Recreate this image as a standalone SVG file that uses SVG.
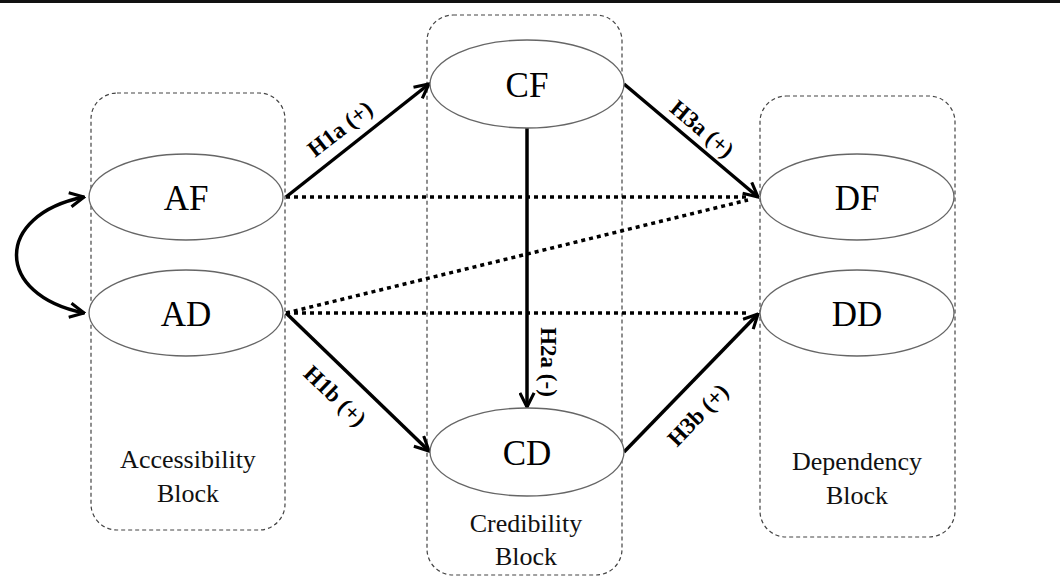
<svg xmlns="http://www.w3.org/2000/svg" width="1060" height="580" viewBox="0 0 1060 580">
<style>
.blk{fill:none;stroke:#444;stroke-width:1.2;stroke-dasharray:4 3}
.ell{fill:#fff;stroke:#666;stroke-width:1.3}
text{font-family:'Liberation Serif','Times New Roman','DejaVu Serif',serif}
.nt{font-size:35px;fill:#000;text-anchor:middle;dominant-baseline:central}
.bt{font-size:26px;fill:#111;text-anchor:middle}
.lbl{font-size:23px;font-weight:bold;fill:#000;text-anchor:middle;dominant-baseline:central}
.ar{fill:none;stroke:#000;stroke-width:3.5;marker-end:url(#ah)}
.dt{fill:none;stroke:#000;stroke-width:3.5;stroke-dasharray:4 4}
</style>
<defs>
<marker id="ah" viewBox="0 0 12 12" refX="11" refY="6" markerWidth="17" markerHeight="17" markerUnits="userSpaceOnUse" orient="auto-start-reverse">
<path d="M1,1 L11,6 L1,11" fill="none" stroke="#000" stroke-width="2.2"/>
</marker>
</defs>
<line x1="0" y1="1.5" x2="1060" y2="1.5" stroke="#111" stroke-width="3"/>
<g id="accessibility-block">
<rect class="blk" x="91" y="93" width="194" height="437" rx="26"/>
<text class="bt" x="188" y="468">Accessibility</text>
<text class="bt" x="188" y="502">Block</text>
</g>
<g id="credibility-block">
<rect class="blk" x="427" y="15" width="195" height="560" rx="26"/>
<text class="bt" x="526" y="532">Credibility</text>
<text class="bt" x="526" y="565">Block</text>
</g>
<g id="dependency-block">
<rect class="blk" x="760" y="96" width="195" height="441" rx="26"/>
<text class="bt" x="857" y="470">Dependency</text>
<text class="bt" x="857" y="504">Block</text>
</g>
<g id="connectors">
<line class="dt" x1="286" y1="197" x2="748" y2="197"/>
<line class="dt" x1="286" y1="313" x2="748" y2="200"/>
<line class="dt" x1="286" y1="313" x2="750" y2="313"/>
<line class="ar" x1="286" y1="197" x2="429" y2="84"/>
<line class="ar" x1="286" y1="313" x2="429" y2="451"/>
<line class="ar" x1="527" y1="127" x2="527" y2="407"/>
<line class="ar" x1="624" y1="84" x2="758" y2="197"/>
<line class="ar" x1="624" y1="452" x2="758" y2="314"/>
<path class="ar" style="marker-start:url(#ah)" d="M84,197 C-6,215 -6,295 84,313"/>
<text class="lbl" transform="translate(340,129) rotate(-38)">H1a (+)</text>
<text class="lbl" transform="translate(335,396) rotate(44)">H1b (+)</text>
<text class="lbl" transform="translate(548,362) rotate(90)">H2a (-)</text>
<text class="lbl" transform="translate(702,129) rotate(40)">H3a (+)</text>
<text class="lbl" transform="translate(698,415) rotate(-46)">H3b (+)</text>
</g>
<g id="AF"><ellipse class="ell" cx="186" cy="197" rx="97" ry="43"/><text class="nt" x="186" y="198">AF</text></g>
<g id="AD"><ellipse class="ell" cx="186" cy="313" rx="97" ry="43"/><text class="nt" x="186" y="314">AD</text></g>
<g id="CF"><ellipse class="ell" cx="527" cy="84" rx="97" ry="44"/><text class="nt" x="527" y="85">CF</text></g>
<g id="CD"><ellipse class="ell" cx="527" cy="452" rx="97" ry="44"/><text class="nt" x="527" y="453">CD</text></g>
<g id="DF"><ellipse class="ell" cx="857" cy="197" rx="97" ry="43"/><text class="nt" x="857" y="198">DF</text></g>
<g id="DD"><ellipse class="ell" cx="857" cy="313" rx="97" ry="43"/><text class="nt" x="857" y="314">DD</text></g>
</svg>
